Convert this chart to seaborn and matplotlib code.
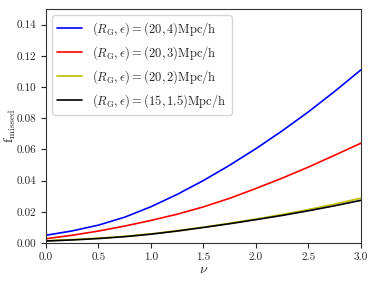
import numpy as np
import pandas as pd
import matplotlib
matplotlib.use('Agg')
import matplotlib.pyplot as plt
import seaborn as sns

nu = [0.0, 0.25, 0.5, 0.75, 1.0, 1.25, 1.5, 1.75, 2.0, 2.25, 2.5, 2.75, 3.0]
f_20_4 = [0.0050, 0.0078, 0.0115, 0.0166, 0.0233, 0.0312, 0.0401, 0.0499, 0.0605, 0.0719, 0.0841, 0.0972, 0.1110]
f_20_3 = [0.0028, 0.0050, 0.0077, 0.0109, 0.0145, 0.0185, 0.0232, 0.0287, 0.0350, 0.0416, 0.0487, 0.0563, 0.0640]
f_20_2 = [0.0015, 0.0022, 0.0031, 0.0043, 0.0059, 0.0079, 0.0102, 0.0127, 0.0154, 0.0183, 0.0215, 0.0250, 0.0288]
f_15_15 = [0.0013, 0.0020, 0.0029, 0.0041, 0.0057, 0.0077, 0.0100, 0.0124, 0.0150, 0.0177, 0.0207, 0.0239, 0.0274]

labels = [r'$(R_{\rm G},\epsilon)=(20,4){\rm Mpc/h}$',
          r'$(R_{\rm G},\epsilon)=(20,3){\rm Mpc/h}$',
          r'$(R_{\rm G},\epsilon)=(20,2){\rm Mpc/h}$',
          r'$(R_{\rm G},\epsilon)=(15,1.5){\rm Mpc/h}$']
colors = ['b', 'r', 'y', 'k']

sns.set_style('ticks')
plt.rcParams['font.family'] = ['cmr10', 'DejaVu Serif']
plt.rcParams['mathtext.fontset'] = 'cm'
plt.rcParams['axes.formatter.use_mathtext'] = True

df = pd.DataFrame({'nu': nu * 4,
                   'f': f_20_4 + f_20_3 + f_20_2 + f_15_15,
                   'case': sum([[l] * len(nu) for l in labels], [])})

fig = plt.figure(figsize=(3.74, 2.81), dpi=100)
ax = fig.add_axes([0.123, 0.135, 0.842, 0.833])
sns.lineplot(data=df, x='nu', y='f', hue='case', palette=colors, linewidth=1.2, ax=ax)

ax.set_xlim(0, 3)
ax.set_ylim(0, 0.15)
ax.set_xticks([0, 0.5, 1.0, 1.5, 2.0, 2.5, 3.0])
ax.set_yticks([0, 0.02, 0.04, 0.06, 0.08, 0.10, 0.12, 0.14])
ax.set_xticklabels(['0.0', '0.5', '1.0', '1.5', '2.0', '2.5', '3.0'])
ax.set_yticklabels(['0.00', '0.02', '0.04', '0.06', '0.08', '0.10', '0.12', '0.14'])
ax.tick_params(labelsize=8, length=3.5, width=0.8)
ax.set_xlabel(r'$\nu$', fontsize=10, labelpad=1)
ax.set_ylabel(r'${\rm f}_{\rm missed}$', fontsize=10)
ax.yaxis.set_label_coords(-0.09, 0.5)
for s in ax.spines.values():
    s.set_visible(True)
    s.set_color('#333333')
ax.legend(loc='upper left', fontsize=9, title=None, handlelength=2.0)

fig.savefig('out.png', dpi=100)
